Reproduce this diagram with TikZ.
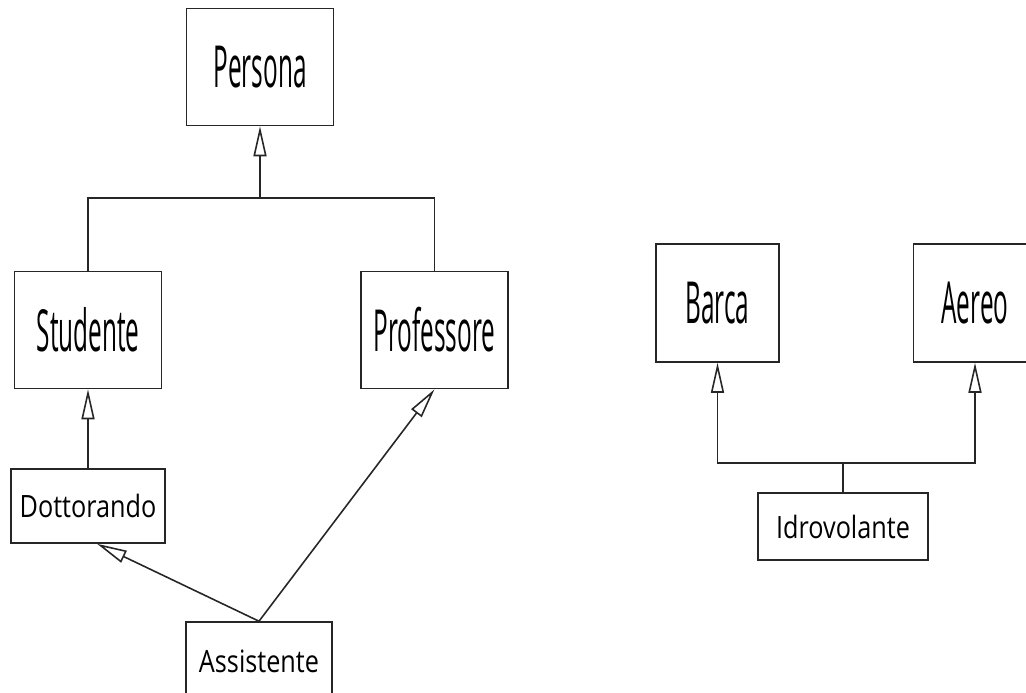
\documentclass[tikz,border=0pt]{standalone}
\usepackage{fontspec}
\usepackage{tikz}
\usetikzlibrary{arrows.meta}
\newfontfamily\classfont[FakeStretch=0.42]{Open Sans}
\newfontfamily\subfont[FakeStretch=0.82]{Open Sans}

\begin{document}
\begin{tikzpicture}[isa/.style={-{Triangle[open,length=0.6cm,width=0.26cm]}}]
\useasboundingbox (0,0) rectangle (20.52,-13.86);

\begin{scope}[every node/.style={draw=black!85,line width=0.9pt,minimum width=2.94cm,minimum height=2.34cm,font=\classfont\fontsize{33}{40}\selectfont}]
	%Persona
	\node (Persona) at (5.2, -1.34) {Persona};
	
	\node (Studente) at (1.76, -6.6) {Studente};
	\node (Professore) at (8.69, -6.6) {Professore};
	
	%Idrovolante
	\node[minimum width=2.46cm,minimum height=2.36cm] (Barca) at (14.35, -6.06) {Barca};
	\node[minimum width=2.46cm,minimum height=2.36cm] (Aereo) at (19.5, -6.06) {Aereo};
\end{scope}

\begin{scope}[every node/.style={draw=black!85,line width=0.9pt,minimum height=1.48cm,font=\subfont\fontsize{17.5}{21}\selectfont}]
	%Persona
	\node[minimum width=3.08cm] (Dottorando) at (1.76, -10.12) {Dottorando};
	\node[minimum width=2.92cm,minimum height=1.56cm] (Assistente) at (5.18, -13.22) {Assistente};
	
	%Idrovolante
	\node[minimum width=3.4cm,minimum height=1.34cm] (Idrovolante) at (16.86, -10.53) {Idrovolante};
\end{scope}

\coordinate (j_1) at (5.2, -3.96);
\coordinate (j_2) at (16.86, -9.26);

\begin{scope}[draw=black!85,line width=0.9pt]
	%Persona
	\draw (Studente.north) |- (j_1) -| (Professore.north);
	\draw[isa] (j_1) -- (Persona.south);
	
	\draw[isa] (Dottorando.north) -- (Studente.south);
	\draw[isa] (Assistente.north) -- ([xshift=0.18cm]Dottorando.south);
	\draw[isa] (Assistente.north) -- (Professore.south);
	
	%Idrovolante
	\draw (Idrovolante.north) -- (j_2);
	\draw[isa] (j_2) -| (Barca.south);
	\draw[isa] (j_2) -| (Aereo.south);
\end{scope}
\end{tikzpicture}
\end{document}
